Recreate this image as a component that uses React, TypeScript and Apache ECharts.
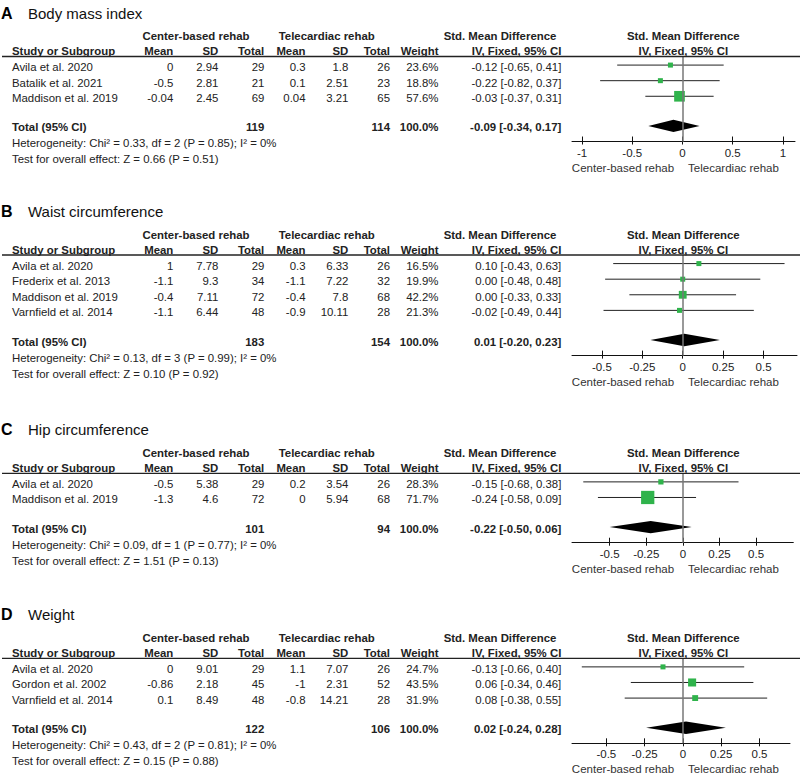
import React, { useEffect, useRef } from 'react';
import * as echarts from 'echarts';

// ---------- Panel A: Body mass index ----------
const A_studies = ['Avila et al. 2020', 'Batalik et al. 2021', 'Maddison et al. 2019'];
const A_cbMean = [0, -0.5, -0.04];
const A_cbSD = [2.94, 2.81, 2.45];
const A_cbTotal = [29, 21, 69];
const A_tcMean = [0.3, 0.1, 0.04];
const A_tcSD = [1.8, 2.51, 3.21];
const A_tcTotal = [26, 23, 65];
const A_weight = [23.6, 18.8, 57.6];
const A_smd = [-0.12, -0.22, -0.03];
const A_lo = [-0.65, -0.82, -0.37];
const A_hi = [0.41, 0.37, 0.31];
const A_pooled = [-0.09, -0.34, 0.17];
const A_totals = [119, 114, 100.0];
const A_het = 'Heterogeneity: Chi² = 0.33, df = 2 (P = 0.85); I² = 0%';
const A_test = 'Test for overall effect: Z = 0.66 (P = 0.51)';
const A_ticks = [-1, -0.5, 0, 0.5, 1];

// ---------- Panel B: Waist circumference ----------
const B_studies = ['Avila et al. 2020', 'Frederix et al. 2013', 'Maddison et al. 2019', 'Varnfield et al. 2014'];
const B_cbMean = [1, -1.1, -0.4, -1.1];
const B_cbSD = [7.78, 9.3, 7.11, 6.44];
const B_cbTotal = [29, 34, 72, 48];
const B_tcMean = [0.3, -1.1, -0.4, -0.9];
const B_tcSD = [6.33, 7.22, 7.8, 10.11];
const B_tcTotal = [26, 32, 68, 28];
const B_weight = [16.5, 19.9, 42.2, 21.3];
const B_smd = [0.1, 0.0, 0.0, -0.02];
const B_lo = [-0.43, -0.48, -0.33, -0.49];
const B_hi = [0.63, 0.48, 0.33, 0.44];
const B_pooled = [0.01, -0.2, 0.23];
const B_totals = [183, 154, 100.0];
const B_het = 'Heterogeneity: Chi² = 0.13, df = 3 (P = 0.99); I² = 0%';
const B_test = 'Test for overall effect: Z = 0.10 (P = 0.92)';
const B_ticks = [-0.5, -0.25, 0, 0.25, 0.5];

// ---------- Panel C: Hip circumference ----------
const C_studies = ['Avila et al. 2020', 'Maddison et al. 2019'];
const C_cbMean = [-0.5, -1.3];
const C_cbSD = [5.38, 4.6];
const C_cbTotal = [29, 72];
const C_tcMean = [0.2, 0];
const C_tcSD = [3.54, 5.94];
const C_tcTotal = [26, 68];
const C_weight = [28.3, 71.7];
const C_smd = [-0.15, -0.24];
const C_lo = [-0.68, -0.58];
const C_hi = [0.38, 0.09];
const C_pooled = [-0.22, -0.5, 0.06];
const C_totals = [101, 94, 100.0];
const C_het = 'Heterogeneity: Chi² = 0.09, df = 1 (P = 0.77); I² = 0%';
const C_test = 'Test for overall effect: Z = 1.51 (P = 0.13)';
const C_ticks = [-0.5, -0.25, 0, 0.25, 0.5];

// ---------- Panel D: Weight ----------
const D_studies = ['Avila et al. 2020', 'Gordon et al. 2002', 'Varnfield et al. 2014'];
const D_cbMean = [0, -0.86, 0.1];
const D_cbSD = [9.01, 2.18, 8.49];
const D_cbTotal = [29, 45, 48];
const D_tcMean = [1.1, -1, -0.8];
const D_tcSD = [7.07, 2.31, 14.21];
const D_tcTotal = [26, 52, 28];
const D_weight = [24.7, 43.5, 31.9];
const D_smd = [-0.13, 0.06, 0.08];
const D_lo = [-0.66, -0.34, -0.38];
const D_hi = [0.4, 0.46, 0.55];
const D_pooled = [0.02, -0.24, 0.28];
const D_totals = [122, 106, 100.0];
const D_het = 'Heterogeneity: Chi² = 0.43, df = 2 (P = 0.81); I² = 0%';
const D_test = 'Test for overall effect: Z = 0.15 (P = 0.88)';
const D_ticks = [-0.5, -0.25, 0, 0.25, 0.5];

const FONT = '"Liberation Sans", Arial, Helvetica, sans-serif';
const STEP = 15.6;
const YMIN = -0.55;
const PLOT_LEFT = 572;
const COL = {
  study: 12, cbMean: 173.3, cbSD: 218.3, cbTotal: 264.3, tcMean: 305.5, tcSD: 348.3,
  tcTotal: 390, weight: 438.5, ci: 561.3, grpCb: 196, grpTc: 326.7, smdL: 500, plotC: 683.3,
  dirL: 623, dirR: 733.5,
};

const PANELS = [
  { letter: 'A', title: 'Body mass index', studies: A_studies, cbMean: A_cbMean, cbSD: A_cbSD, cbTotal: A_cbTotal, tcMean: A_tcMean, tcSD: A_tcSD, tcTotal: A_tcTotal, weight: A_weight, smd: A_smd, lo: A_lo, hi: A_hi, pooled: A_pooled, totals: A_totals, het: A_het, test: A_test, ticks: A_ticks, L: 56.5, xMin: -1.1, xMax: 1.12, right: 795 },
  { letter: 'B', title: 'Waist circumference', studies: B_studies, cbMean: B_cbMean, cbSD: B_cbSD, cbTotal: B_cbTotal, tcMean: B_tcMean, tcSD: B_tcSD, tcTotal: B_tcTotal, weight: B_weight, smd: B_smd, lo: B_lo, hi: B_hi, pooled: B_pooled, totals: B_totals, het: B_het, test: B_test, ticks: B_ticks, L: 255, xMin: -0.685, xMax: 0.707, right: 797 },
  { letter: 'C', title: 'Hip circumference', studies: C_studies, cbMean: C_cbMean, cbSD: C_cbSD, cbTotal: C_cbTotal, tcMean: C_tcMean, tcSD: C_tcSD, tcTotal: C_tcTotal, weight: C_weight, smd: C_smd, lo: C_lo, hi: C_hi, pooled: C_pooled, totals: C_totals, het: C_het, test: C_test, ticks: C_ticks, L: 473.3, xMin: -0.757, xMax: 0.754, right: 793.3 },
  { letter: 'D', title: 'Weight', studies: D_studies, cbMean: D_cbMean, cbSD: D_cbSD, cbTotal: D_cbTotal, tcMean: D_tcMean, tcSD: D_tcSD, tcTotal: D_tcTotal, weight: D_weight, smd: D_smd, lo: D_lo, hi: D_hi, pooled: D_pooled, totals: D_totals, het: D_het, test: D_test, ticks: D_ticks, L: 658.3, xMin: -0.724, xMax: 0.699, right: 790 },
];

function txt(text: string, x: number, y: number, align = 'left', bold = false, size = 11.4, color = '#222') {
  return {
    type: 'text', silent: true, x, y,
    style: {
      text, align, textAlign: align, verticalAlign: 'middle', textVerticalAlign: 'middle',
      font: `${bold ? 'bold ' : ''}${size}px ${FONT}`, fill: color,
    },
  };
}

const fmtCI = (e: number, l: number, h: number) => `${e.toFixed(2)} [${l.toFixed(2)}, ${h.toFixed(2)}]`;

function buildOption() {
  const grids: any[] = [];
  const xAxes: any[] = [];
  const yAxes: any[] = [];
  const series: any[] = [];
  const graphics: any[] = [];

  PANELS.forEach((p, i) => {
    const n = p.studies.length;
    const totalRow = n + 0.9;
    const yMax = totalRow + 1;
    const height = (yMax - YMIN) * STEP;
    const rowPix = (v: number) => p.L + (v - YMIN) * STEP;
    const axisY = p.L + height;

    grids.push({ left: PLOT_LEFT, top: p.L, width: p.right - PLOT_LEFT, height });
    // main axis: line, labels and upward ticks
    xAxes.push({
      gridIndex: i, type: 'value', min: p.xMin, max: p.xMax, position: 'bottom',
      axisLine: { show: true, onZero: false, lineStyle: { color: '#111', width: 1 } },
      axisTick: { show: true, inside: true, length: 5, customValues: p.ticks, lineStyle: { color: '#111', width: 1 } },
      axisLabel: { show: true, customValues: p.ticks, margin: 5, color: '#222', fontSize: 11.5, fontFamily: FONT },
      splitLine: { show: false },
    });
    // companion axis moved onto the bottom edge: downward stubs of the crossing ticks
    xAxes.push({
      gridIndex: i, type: 'value', min: p.xMin, max: p.xMax, position: 'top', offset: -height,
      axisLine: { show: false, onZero: false },
      axisTick: { show: true, inside: true, length: 3, customValues: p.ticks, lineStyle: { color: '#111', width: 1 } },
      axisLabel: { show: false },
      splitLine: { show: false },
    });
    yAxes.push({ gridIndex: i, type: 'value', min: YMIN, max: yMax, inverse: true, show: false });

    const data: any[] = p.studies.map((_, k) => [p.smd[k], p.lo[k], p.hi[k], k, p.weight[k], 0]);
    data.push([p.pooled[0], p.pooled[1], p.pooled[2], totalRow, p.totals[2], 1]);

    series.push({
      type: 'custom', xAxisIndex: i * 2, yAxisIndex: i, silent: true,
      encode: { x: [0, 1, 2], y: 3 },
      data,
      renderItem: (params: any, api: any) => {
        const est = api.value(0), lo = api.value(1), hi = api.value(2), row = api.value(3);
        const w = api.value(4), kind = api.value(5);
        const c = api.coord([est, row]);
        const pl = api.coord([lo, row]);
        const ph = api.coord([hi, row]);
        if (kind === 1) {
          return {
            type: 'polygon',
            shape: { points: [[pl[0], c[1]], [c[0], c[1] - 6.2], [ph[0], c[1]], [c[0], c[1] + 6.2]] },
            style: { fill: '#000' },
          };
        }
        const s = Math.max(5, w * 0.185);
        return {
          type: 'group',
          children: [
            { type: 'line', shape: { x1: pl[0], y1: c[1], x2: ph[0], y2: c[1] }, style: { stroke: '#222', lineWidth: 1 } },
            { type: 'rect', shape: { x: c[0] - s / 2, y: c[1] - s / 2, width: s, height: s }, style: { fill: '#2fb34b' } },
          ],
        };
      },
      markLine: {
        silent: true, symbol: 'none', animation: false,
        label: { show: false },
        lineStyle: { color: '#777', width: 1.5, type: 'solid' },
        data: [{ xAxis: 0 }],
      },
      z: 3,
    });

    // Titles and headers
    graphics.push(txt(p.letter, 1, p.L - 43.5, 'left', true, 16, '#000'));
    graphics.push(txt(p.title, 28, p.L - 43.5, 'left', false, 15, '#111'));
    const gh = p.L - 20.5;
    graphics.push(txt('Center-based rehab', COL.grpCb, gh, 'center', true));
    graphics.push(txt('Telecardiac rehab', COL.grpTc, gh, 'center', true));
    graphics.push(txt('Std. Mean Difference', COL.smdL, gh, 'center', true));
    graphics.push(txt('Std. Mean Difference', COL.plotC, gh, 'center', true));
    const hh = p.L - 5.3;
    graphics.push(txt('Study or Subgroup', COL.study, hh, 'left', true));
    graphics.push(txt('Mean', COL.cbMean, hh, 'right', true));
    graphics.push(txt('SD', COL.cbSD, hh, 'right', true));
    graphics.push(txt('Total', COL.cbTotal, hh, 'right', true));
    graphics.push(txt('Mean', COL.tcMean, hh, 'right', true));
    graphics.push(txt('SD', COL.tcSD, hh, 'right', true));
    graphics.push(txt('Total', COL.tcTotal, hh, 'right', true));
    graphics.push(txt('Weight', COL.weight, hh, 'right', true));
    graphics.push(txt('IV, Fixed, 95% CI', COL.ci, hh, 'right', true));
    graphics.push(txt('IV, Fixed, 95% CI', COL.plotC, hh, 'center', true));
    graphics.push({
      type: 'line', silent: true, z: 10,
      shape: { x1: 2, y1: p.L, x2: 800, y2: p.L },
      style: { stroke: '#222', lineWidth: 1.3 },
    });

    // Study rows
    p.studies.forEach((s, k) => {
      const y = rowPix(k) + 2;
      graphics.push(txt(s, COL.study, y));
      graphics.push(txt(String(p.cbMean[k]), COL.cbMean, y, 'right'));
      graphics.push(txt(String(p.cbSD[k]), COL.cbSD, y, 'right'));
      graphics.push(txt(String(p.cbTotal[k]), COL.cbTotal, y, 'right'));
      graphics.push(txt(String(p.tcMean[k]), COL.tcMean, y, 'right'));
      graphics.push(txt(String(p.tcSD[k]), COL.tcSD, y, 'right'));
      graphics.push(txt(String(p.tcTotal[k]), COL.tcTotal, y, 'right'));
      graphics.push(txt(p.weight[k].toFixed(1) + '%', COL.weight, y, 'right'));
      graphics.push(txt(fmtCI(p.smd[k], p.lo[k], p.hi[k]), COL.ci, y, 'right'));
    });

    // Total row
    const ty = rowPix(totalRow) + 1.5;
    graphics.push(txt('Total (95% CI)', COL.study, ty, 'left', true));
    graphics.push(txt(String(p.totals[0]), COL.cbTotal, ty, 'right', true));
    graphics.push(txt(String(p.totals[1]), COL.tcTotal, ty, 'right', true));
    graphics.push(txt(p.totals[2].toFixed(1) + '%', COL.weight, ty, 'right', true));
    graphics.push(txt(fmtCI(p.pooled[0], p.pooled[1], p.pooled[2]), COL.ci, ty, 'right', true));
    graphics.push(txt(p.het, COL.study, ty + 16));
    graphics.push(txt(p.test, COL.study, ty + 32));

    // Direction labels
    graphics.push(txt('Center-based rehab', COL.dirL, axisY + 26, 'center', false, 11.5, '#333'));
    graphics.push(txt('Telecardiac rehab', COL.dirR, axisY + 26, 'center', false, 11.5, '#333'));
  });

  return {
    animation: false,
    backgroundColor: '#ffffff',
    grid: grids,
    xAxis: xAxes,
    yAxis: yAxes,
    series,
    graphic: { elements: graphics },
  };
}

export default function App() {
  const ref = useRef<HTMLDivElement>(null);
  useEffect(() => {
    if (!ref.current) return;
    const chart = echarts.init(ref.current, undefined, { renderer: 'svg' });
    chart.setOption(buildOption() as any);
    return () => chart.dispose();
  }, []);
  return (
    <div
      ref={ref}
      style={{ position: 'absolute', left: 0, top: 0, width: 800, height: 774, background: '#fff' }}
    />
  );
}
